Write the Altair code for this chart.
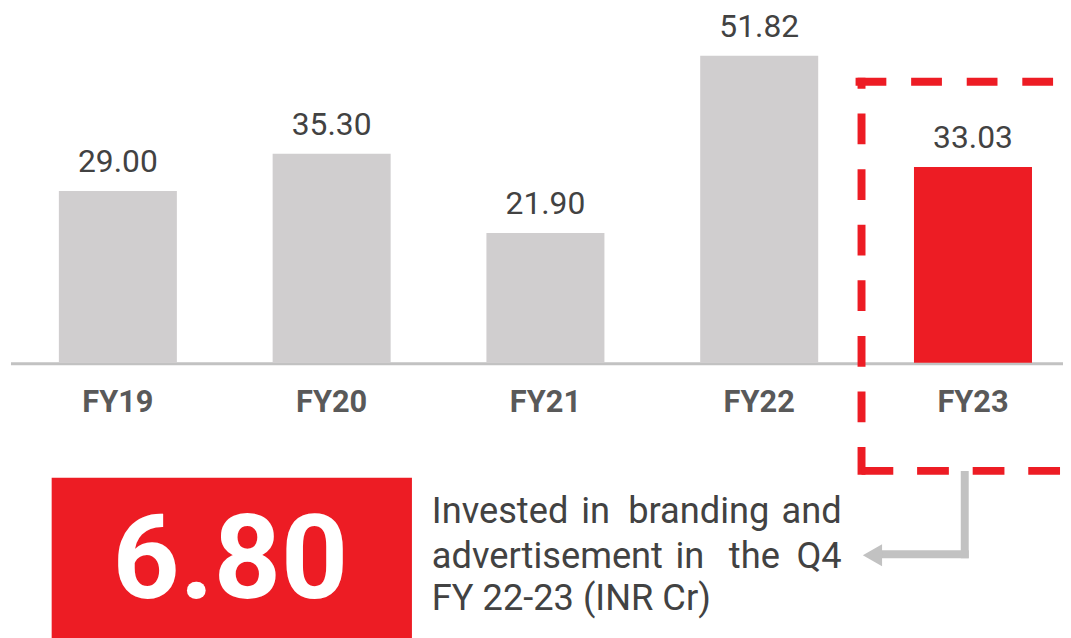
import altair as alt
import pandas as pd

# ---- data ----
years = ["FY19", "FY20", "FY21", "FY22", "FY23"]
values = [29.00, 35.30, 21.90, 51.82, 33.03]
labels = ["29.00", "35.30", "21.90", "51.82", "33.03"]
highlight = ["no", "no", "no", "no", "yes"]

big_number = "6.80"
caption_line1_words = ["Invested", "in", "branding", "and"]
caption_line2_words = ["advertisement", "in", "the", "Q4"]
caption_line3 = "FY 22-23 (INR Cr)"

RED = "#ED1C24"
GREY_BAR = "#D0CECF"
GREY_LINE = "#C2C2C2"
TEXT = "#424242"
FONT = "Roboto"

df = pd.DataFrame({"year": years, "value": values, "label": labels, "hl": highlight})
one = pd.DataFrame({"k": [0]})

xscale = alt.Scale(domain=years, range=[3, 1080], paddingInner=0.448, paddingOuter=0.224)
yscale = alt.Scale(domain=[0, 60], range=[355, -3])

base = alt.Chart(df)

bars = base.mark_bar().encode(
    x=alt.X("year:N", scale=xscale, axis=None, sort=years),
    y=alt.Y("value:Q", scale=yscale, axis=None),
    color=alt.Color("hl:N", scale=alt.Scale(domain=["no", "yes"], range=[GREY_BAR, RED]), legend=None),
)

value_text = base.mark_text(
    baseline="alphabetic", dy=-19, fontSize=32, font=FONT, color=TEXT
).encode(
    x=alt.X("year:N", scale=xscale, axis=None, sort=years),
    y=alt.Y("value:Q", scale=yscale, axis=None),
    text="label:N",
)

year_text = base.mark_text(
    baseline="middle", fontSize=31, font=FONT, fontWeight="bold", color="#595959"
).encode(
    x=alt.X("year:N", scale=xscale, axis=None, sort=years),
    y=alt.value(396),
    text="year:N",
)

baseline = alt.Chart(one).mark_rule(color=GREY_LINE, strokeWidth=3).encode(
    x=alt.value(3), x2=alt.value(1063), y=alt.value(356)
)

# dashed highlight frame (open on the right, cut by the page edge)
frame_top = alt.Chart(one).mark_rule(color=RED, strokeWidth=8, strokeDash=[31, 25]).encode(
    x=alt.value(854), x2=alt.value(1100), y=alt.value(72)
)
frame_left = alt.Chart(one).mark_rule(
    color=RED, strokeWidth=8, strokeDash=[31, 25], strokeDashOffset=20
).encode(x=alt.value(860), y=alt.value(68), y2=alt.value(468))
frame_bottom = alt.Chart(one).mark_rule(color=RED, strokeWidth=8, strokeDash=[32, 24]).encode(
    x=alt.value(860), x2=alt.value(1100), y=alt.value(464)
)

red_box = alt.Chart(one).mark_rect(color=RED).encode(
    x=alt.value(44), x2=alt.value(407), y=alt.value(471), y2=alt.value(640)
)

big_text = alt.Chart(one).mark_text(
    text=big_number, fontSize=118, fontWeight="bold", font=FONT, color="white",
    align="center", baseline="alphabetic"
).encode(x=alt.value(224), y=alt.value(592))

FS = 36.5
caption_layers = []
line1_pos = [(427, "left"), (592, "center"), (696, "center"), (840, "right")]
for w, (px, al) in zip(caption_line1_words, line1_pos):
    caption_layers.append(
        alt.Chart(one).mark_text(
            text=w, fontSize=FS, font=FONT, color=TEXT, align=al, baseline="alphabetic"
        ).encode(x=alt.value(px), y=alt.value(517))
    )
line2_pos = [(427, "left"), (687, "center"), (752, "center"), (840, "right")]
for w, (px, al) in zip(caption_line2_words, line2_pos):
    caption_layers.append(
        alt.Chart(one).mark_text(
            text=w, fontSize=FS, font=FONT, color=TEXT, align=al, baseline="alphabetic"
        ).encode(x=alt.value(px), y=alt.value(562))
    )
caption_layers.append(
    alt.Chart(one).mark_text(
        text=caption_line3, fontSize=FS, font=FONT, color=TEXT, align="left", baseline="alphabetic"
    ).encode(x=alt.value(427), y=alt.value(604))
)

arrow_v = alt.Chart(one).mark_rule(color=GREY_LINE, strokeWidth=8).encode(
    x=alt.value(964), y=alt.value(464), y2=alt.value(552)
)
arrow_h = alt.Chart(one).mark_rule(color=GREY_LINE, strokeWidth=8).encode(
    x=alt.value(968), x2=alt.value(878), y=alt.value(548)
)
arrow_head = alt.Chart(one).mark_point(
    shape="triangle-left", filled=True, size=500, color=GREY_LINE, opacity=1
).encode(x=alt.value(871), y=alt.value(549))

chart = alt.layer(
    baseline, bars, value_text, year_text, frame_top, frame_left, frame_bottom,
    red_box, big_text, *caption_layers, arrow_v, arrow_h, arrow_head
).properties(
    width=1063, height=630, autosize=alt.AutoSizeParams(type="none"), padding=0
).configure(background="white").configure_view(stroke=None)

chart.save("out.html", embed_options={"renderer": "svg", "actions": False})
